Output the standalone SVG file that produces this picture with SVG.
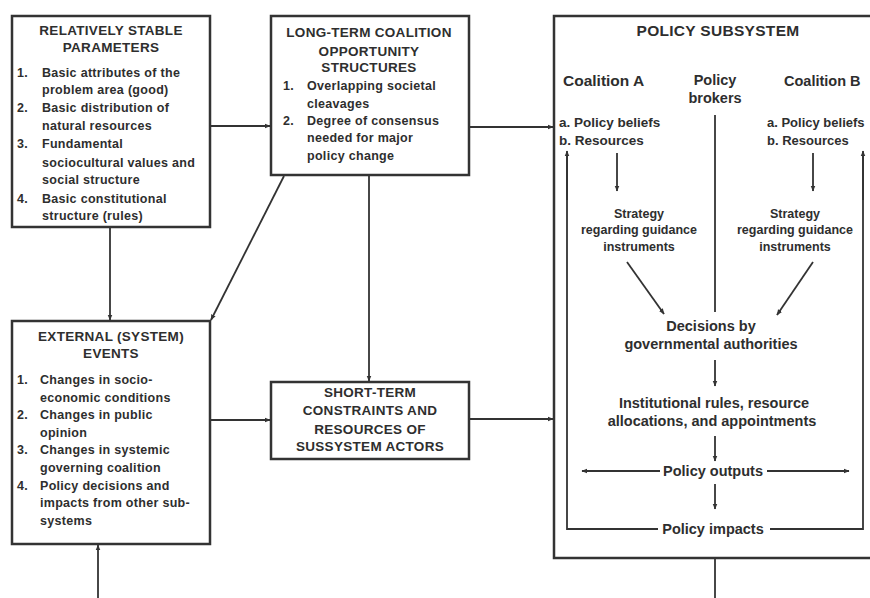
<svg xmlns="http://www.w3.org/2000/svg" width="870" height="598" viewBox="0 0 870 598">
<style>
text{font-family:"Liberation Sans",Arial,sans-serif;font-weight:bold;fill:#2e2e2e}
.box{fill:#fff;stroke:#333;stroke-width:2.5}
.t{font-size:13.5px;letter-spacing:0.3px;text-anchor:middle}
.i{font-size:12.5px;letter-spacing:0.3px}
.s{font-size:13.5px}
.c{font-size:14.5px;text-anchor:middle}
.g{font-size:12.5px;text-anchor:middle}
.ln{fill:none;stroke:#333;stroke-width:1.8}
</style>
<defs>
<marker id="ah" viewBox="0 0 10 10" refX="9" refY="5" markerWidth="6" markerHeight="6" markerUnits="userSpaceOnUse" orient="auto">
<path d="M0,1 L10,5 L0,9 z" fill="#333"/>
</marker>
</defs>
<rect width="870" height="598" fill="#fff"/>

<g id="stable">
<rect class="box" x="12" y="16" width="198" height="211"/>
<text class="t" x="111" y="35">RELATIVELY STABLE</text>
<text class="t" x="111" y="52">PARAMETERS</text>
<text class="i" x="17" y="77">1.</text><text class="i" x="42" y="77">Basic attributes of the</text>
<text class="i" x="42" y="94">problem area (good)</text>
<text class="i" x="17" y="112">2.</text><text class="i" x="42" y="112">Basic distribution of</text>
<text class="i" x="42" y="130">natural resources</text>
<text class="i" x="17" y="148">3.</text><text class="i" x="42" y="148">Fundamental</text>
<text class="i" x="42" y="167">sociocultural values and</text>
<text class="i" x="42" y="184">social structure</text>
<text class="i" x="17" y="203">4.</text><text class="i" x="42" y="203">Basic constitutional</text>
<text class="i" x="42" y="220">structure (rules)</text>
</g>

<g id="longterm">
<rect class="box" x="271" y="16" width="198" height="159"/>
<text class="t" x="369" y="37">LONG-TERM COALITION</text>
<text class="t" x="369" y="56">OPPORTUNITY</text>
<text class="t" x="369" y="72">STRUCTURES</text>
<text class="i" x="283" y="90">1.</text><text class="i" x="307" y="90">Overlapping societal</text>
<text class="i" x="307" y="108">cleavages</text>
<text class="i" x="283" y="125">2.</text><text class="i" x="307" y="125">Degree of consensus</text>
<text class="i" x="307" y="142">needed for major</text>
<text class="i" x="307" y="160">policy change</text>
</g>

<g id="external">
<rect class="box" x="12" y="321" width="198" height="223"/>
<text class="t" x="111" y="341">EXTERNAL (SYSTEM)</text>
<text class="t" x="111" y="358">EVENTS</text>
<text class="i" x="17" y="384">1.</text><text class="i" x="40" y="384">Changes in socio-</text>
<text class="i" x="40" y="402">economic conditions</text>
<text class="i" x="17" y="419">2.</text><text class="i" x="40" y="419">Changes in public</text>
<text class="i" x="40" y="437">opinion</text>
<text class="i" x="17" y="454">3.</text><text class="i" x="40" y="454">Changes in systemic</text>
<text class="i" x="40" y="472">governing coalition</text>
<text class="i" x="17" y="490">4.</text><text class="i" x="40" y="490">Policy decisions and</text>
<text class="i" x="40" y="507">impacts from other sub-</text>
<text class="i" x="40" y="525">systems</text>
</g>

<g id="shortterm">
<rect class="box" x="271" y="382" width="198" height="77"/>
<text class="t" x="370" y="397">SHORT-TERM</text>
<text class="t" x="370" y="415">CONSTRAINTS AND</text>
<text class="t" x="370" y="434">RESOURCES OF</text>
<text class="t" x="370" y="451">SUSSYSTEM ACTORS</text>
</g>

<g id="subsystem">
<rect class="box" x="554" y="16" width="330" height="542"/>
<text x="718" y="36" style="font-size:15.5px;text-anchor:middle;letter-spacing:0.3px">POLICY SUBSYSTEM</text>
<text class="s" x="563" y="86" style="font-size:15.5px">Coalition A</text>
<text class="c" x="715" y="85">Policy</text>
<text class="c" x="715" y="103">brokers</text>
<text class="s" x="784" y="86" style="font-size:14.5px">Coalition B</text>
<text class="s" x="559" y="127">a. Policy beliefs</text>
<text class="s" x="559" y="145">b. Resources</text>
<text class="s" x="767" y="127" style="font-size:13px">a. Policy beliefs</text>
<text class="s" x="767" y="145" style="font-size:13px">b. Resources</text>
<text class="g" x="639" y="218">Strategy</text>
<text class="g" x="639" y="234">regarding guidance</text>
<text class="g" x="639" y="251">instruments</text>
<text class="g" x="795" y="218">Strategy</text>
<text class="g" x="795" y="234">regarding guidance</text>
<text class="g" x="795" y="251">instruments</text>
<text class="c" x="711" y="331">Decisions by</text>
<text class="c" x="711" y="349">governmental authorities</text>
<text class="c" x="714" y="408">Institutional rules, resource</text>
<text class="c" x="712" y="426">allocations, and appointments</text>
<text class="c" x="713" y="476">Policy outputs</text>
<text class="c" x="713" y="534">Policy impacts</text>
</g>

<g id="connectors">
<line class="ln" x1="211" y1="126" x2="270" y2="126" marker-end="url(#ah)"/>
<line class="ln" x1="470" y1="127" x2="553" y2="127" marker-end="url(#ah)"/>
<line class="ln" x1="110" y1="228" x2="110" y2="320" marker-end="url(#ah)"/>
<line class="ln" x1="284" y1="176" x2="211" y2="320" marker-end="url(#ah)"/>
<line class="ln" x1="369" y1="176" x2="369" y2="381" marker-end="url(#ah)"/>
<line class="ln" x1="211" y1="420" x2="270" y2="420" marker-end="url(#ah)"/>
<line class="ln" x1="470" y1="419" x2="553" y2="419" marker-end="url(#ah)"/>
<line class="ln" x1="98" y1="598" x2="98" y2="545" marker-end="url(#ah)"/>
<line class="ln" x1="715" y1="559" x2="715" y2="598"/>
<polyline class="ln" points="567,152 567,529 658,529"/>
<polyline class="ln" points="770,529 863,529 863,152"/>
<line class="ln" x1="567" y1="200" x2="567" y2="151" marker-end="url(#ah)"/>
<line class="ln" x1="863" y1="200" x2="863" y2="151" marker-end="url(#ah)"/>
<line class="ln" x1="617" y1="153" x2="617" y2="191" marker-end="url(#ah)"/>
<line class="ln" x1="813" y1="153" x2="813" y2="191" marker-end="url(#ah)"/>
<line class="ln" x1="715" y1="115" x2="715" y2="312"/>
<line class="ln" x1="627" y1="262" x2="664" y2="314" marker-end="url(#ah)"/>
<line class="ln" x1="813" y1="262" x2="777" y2="315" marker-end="url(#ah)"/>
<line class="ln" x1="715" y1="360" x2="715" y2="386" marker-end="url(#ah)"/>
<line class="ln" x1="715" y1="436" x2="715" y2="461" marker-end="url(#ah)"/>
<line class="ln" x1="715" y1="484" x2="715" y2="509" marker-end="url(#ah)"/>
<line class="ln" x1="660" y1="471" x2="582" y2="471" marker-end="url(#ah)"/>
<line class="ln" x1="767" y1="471" x2="849" y2="471" marker-end="url(#ah)"/>
</g>
</svg>
